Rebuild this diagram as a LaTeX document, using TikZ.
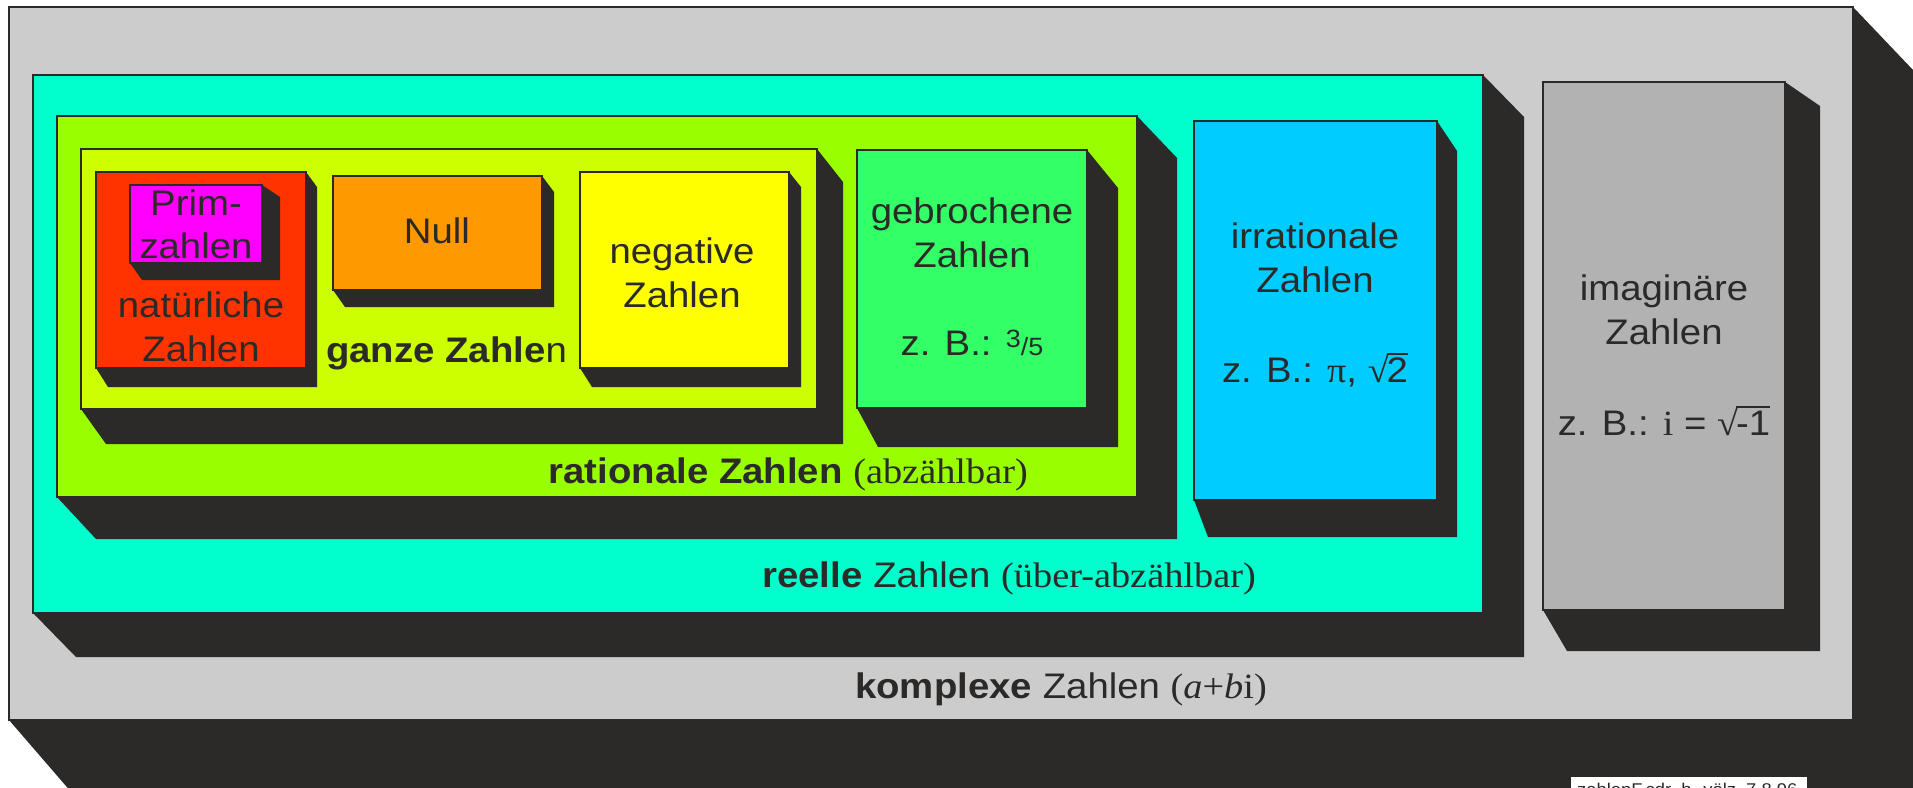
\documentclass[tikz,border=0pt]{standalone}
\usepackage{fontspec}
\setmainfont{Liberation Sans}[FakeStretch=1.08]
\newfontfamily\serif{Liberation Serif}[FakeStretch=1.08]

\definecolor{ink}{HTML}{2B2A29}
\definecolor{extrc}{HTML}{2B2A29}
\definecolor{komplc}{HTML}{CCCCCC}
\definecolor{reellc}{HTML}{00FFCC}
\definecolor{ratc}{HTML}{99FF00}
\definecolor{ganzc}{HTML}{CCFF00}
\definecolor{natc}{HTML}{FF3300}
\definecolor{primc}{HTML}{FF00FF}
\definecolor{nullc}{HTML}{FF9900}
\definecolor{negc}{HTML}{FFFF00}
\definecolor{bruchc}{HTML}{33FF66}
\definecolor{irrc}{HTML}{00CCFF}
\definecolor{imagc}{HTML}{B2B2B2}

% square root sign with a bar over its argument
\newcommand\wurzel[1]{{\serif √}\kern-0.06em\setbox0\hbox{#1}\rlap{\rule[0.76em]{\wd0}{0.045em}}\box0}

% extruded slab: front face (x0,y0)-(x1,y1), back corner top right (xr,yr),
% back corner bottom left (xl,yb), fill colour
\newcommand\numslab[9]{%
  \fill[extr] (#3,#2) -- (#5,#6) -- (#5,#8) -- (#7,#8) -- (#1,#4) -- cycle;
  \filldraw[front,fill=#9] (#1,#2) rectangle (#3,#4);}

\begin{document}
\begin{tikzpicture}[x=1pt,y=-1pt,
  extr/.style={fill=extrc},
  front/.style={draw=ink,line width=1.6pt},
  txt/.style={anchor=base,inner sep=0pt,text=ink,font=\fontsize{35.5}{44}\selectfont}]

\useasboundingbox (0,0) rectangle (1913,787);
\clip (0,0) rectangle (1913,787);
\fill[white] (0,0) rectangle (1913,787);

% komplexe Zahlen
\numslab{9}{7}{1853}{720}{1953}{112}{104}{830}{komplc}
% reelle Zahlen
\numslab{33}{75}{1483}{613}{1524}{117}{76}{657}{reellc}
% rationale Zahlen
\numslab{57}{116}{1137}{497}{1177}{158}{96}{539}{ratc}
% ganze Zahlen
\numslab{81}{149}{817}{409}{843}{182}{106}{444}{ganzc}
% natuerliche Zahlen
\numslab{96}{172}{306}{368}{317}{187}{108}{387}{natc}
% Primzahlen
\numslab{130}{185}{262}{263}{280}{197}{142}{280}{primc}
% Null
\numslab{333}{176}{542}{290}{554}{192}{345}{307}{nullc}
% negative Zahlen
\numslab{580}{172}{789}{368}{801}{187}{592}{387}{negc}
% gebrochene Zahlen
\numslab{857}{150}{1087}{408}{1118}{188}{878}{447}{bruchc}
% irrationale Zahlen
\numslab{1194}{121}{1437}{500}{1457}{151}{1208}{537}{irrc}
% imaginaere Zahlen
\numslab{1543}{82}{1785}{610}{1820}{106}{1567}{651}{imagc}

% labels
\node[txt] (prim1) at (196,215) {Prim-};
\node[txt] (prim2) at (196,258) {zahlen};
\node[txt] (nat1) at (201,317) {natürliche};
\node[txt] (nat2) at (201,361) {Zahlen};
\node[txt] (null) at (437,243) {Null};
\node[txt,anchor=base west] (ganz) at (326,362) {\textbf{ganze Zahle}n};
\node[txt] (neg1) at (682,263) {negative};
\node[txt] (neg2) at (682,307) {Zahlen};
\node[txt] (gebr1) at (972,223) {gebrochene};
\node[txt] (gebr2) at (972,267) {Zahlen};
\node[txt] (gebr3) at (972,355) {z. B.: {\fontsize{25}{28}\selectfont\raisebox{8pt}{3}/5}};
\node[txt] (irr1) at (1315,248) {irrationale};
\node[txt] (irr2) at (1315,292) {Zahlen};
\node[txt] (irr3) at (1315,382) {z. B.: {\serif π}, \wurzel{2}};
\node[txt] (imag1) at (1664,300) {imaginäre};
\node[txt] (imag2) at (1664,344) {Zahlen};
\node[txt] (imag3) at (1664,435) {z. B.: {\serif i} = \wurzel{-1}};
\node[txt,anchor=base east] (rat) at (1028,483) {\textbf{rationale Zahlen} {\serif(abzählbar)}};
\node[txt,anchor=base east] (reell) at (1256,587) {\textbf{reelle} Zahlen {\serif(über-abzählbar)}};
\node[txt,anchor=base east] (kompl) at (1267,698) {\textbf{komplexe} Zahlen {\serif(\textit{a}+\textit{b}i)}};

% file stamp
\fill[white] (1571,777) rectangle (1807,800);
\node[anchor=base west,inner sep=0pt,text=ink,font=\fontsize{17}{20}\selectfont] (stamp) at (1577,795) {zahlenF.cdr\ \ h. völz\ \ 7.8.96};
\end{tikzpicture}
\end{document}
